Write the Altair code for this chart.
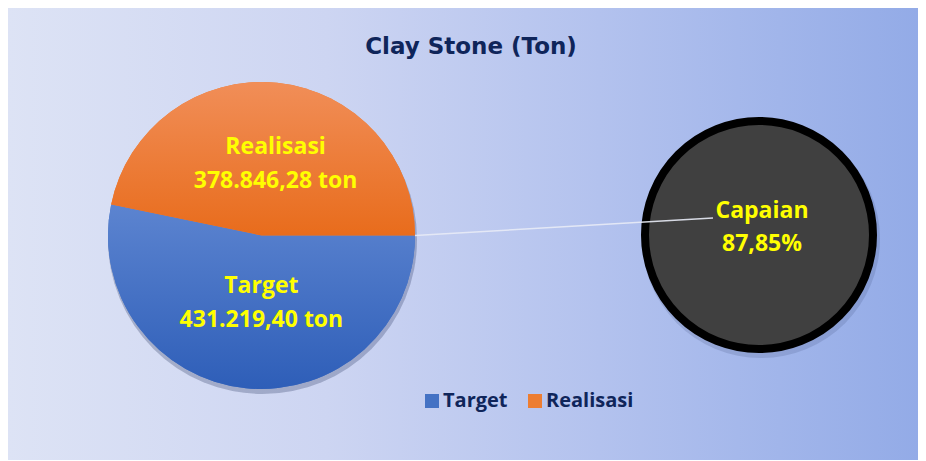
import math
import altair as alt
import pandas as pd

# ---- data ----
categories = ["Target", "Realisasi"]
values = [431219.40, 378846.28]
capaian_label = "Capaian"
capaian_value = 87.85
title_text = "Clay Stone (Ton)"


def fmt_id(v, dec=2):
    s = f"{v:,.{dec}f}"
    return s.replace(",", "_").replace(".", ",").replace("_", ".")


# ---- layout / style ----
W, H = 910, 452
PIE_X, PIE_Y, PIE_R = 253.5, 227.5, 153.5
CIR_X, CIR_Y, CIR_R = 751, 227, 114
NAVY = "#0f255a"
YELLOW = "#ffff00"
solid_colors = ["#4472c4", "#ed7d31"]
grad_colors = [("#5c84d0", "#2e5eb8"), ("#f18e58", "#e86c1c")]

pie_df = pd.DataFrame({
    "cat": categories,
    "value": values,
    "order": list(range(len(categories))),
    "label": [f"{c}\n{fmt_id(v)} ton" for c, v in zip(categories, values)],
})
cap_df = pd.DataFrame({
    "v": [capaian_value],
    "label": [f"{capaian_label}\n{fmt_id(capaian_value)}%"],
})

theta = alt.Theta("value:Q", stack=True,
                  scale=alt.Scale(range=[math.pi / 2, math.pi / 2 + 2 * math.pi]))
order = alt.Order("order:Q")

bg = alt.Chart(pd.DataFrame({"k": [0]})).mark_rect(
    fill=alt.Gradient(
        gradient="linear", x1=0, x2=1, y1=0, y2=0,
        stops=[
            alt.GradientStop(offset=0, color="#dde3f5"),
            alt.GradientStop(offset=0.35, color="#cdd5f2"),
            alt.GradientStop(offset=0.65, color="#b3c2ee"),
            alt.GradientStop(offset=1, color="#93abe7"),
        ],
    )
).encode(x=alt.value(0), x2=alt.value(W), y=alt.value(0), y2=alt.value(H))

# soft drop shadows
pie_shadow = alt.Chart(pie_df).mark_arc(
    theta=0, theta2=2 * math.pi, outerRadius=PIE_R + 1, fill="#1a2a55", opacity=0.14,
).encode(x=alt.value(PIE_X + 1), y=alt.value(PIE_Y + 4))
cir_shadow = alt.Chart(cap_df).mark_arc(
    theta=0, theta2=2 * math.pi, outerRadius=CIR_R + 5, fill="#1a2a55", opacity=0.14,
).encode(x=alt.value(CIR_X + 2), y=alt.value(CIR_Y + 4))

base_pie = alt.Chart(pie_df).mark_arc(outerRadius=PIE_R).encode(
    theta=theta,
    order=order,
    color=alt.Color(
        "cat:N",
        scale=alt.Scale(domain=categories, range=solid_colors),
        legend=alt.Legend(
            orient="none", legendX=414, legendY=383, direction="horizontal",
            title=None, symbolType="square", symbolSize=196,
            labelFont="Open Sans", labelFontSize=20, labelFontWeight="bold",
            labelColor=NAVY, labelOffset=1, columnPadding=17, padding=0,
            symbolStrokeWidth=0,
        ),
    ),
    x=alt.value(PIE_X),
    y=alt.value(PIE_Y),
)

overlays = []
for cat, (c_top, c_bot) in zip(categories, grad_colors):
    overlays.append(
        alt.Chart(pie_df).mark_arc(
            outerRadius=PIE_R,
            fill=alt.Gradient(
                gradient="linear", x1=0, x2=0, y1=0, y2=1,
                stops=[alt.GradientStop(offset=0, color=c_top),
                       alt.GradientStop(offset=1, color=c_bot)],
            ),
        ).encode(
            theta=theta,
            order=order,
            x=alt.value(PIE_X),
            y=alt.value(PIE_Y),
            opacity=alt.condition(alt.datum.cat == cat, alt.value(1), alt.value(0)),
        )
    )

pie_text = alt.Chart(pie_df).mark_text(
    radius=70, font="Open Sans", fontSize=23, fontWeight="bold", color=YELLOW,
    lineBreak="\n", lineHeight=34, align="center", baseline="middle", dx=7, dy=-19,
).encode(theta=theta, order=order, text="label:N",
         x=alt.value(PIE_X), y=alt.value(PIE_Y))

circle = alt.Chart(cap_df).mark_arc(
    theta=0, theta2=2 * math.pi, outerRadius=CIR_R,
    fill="#404040", stroke="#000000", strokeWidth=8,
).encode(x=alt.value(CIR_X), y=alt.value(CIR_Y))

leader = alt.Chart(cap_df).mark_rule(color="#e8ebf6", strokeWidth=1.5, opacity=0.9).encode(
    x=alt.value(PIE_X + PIE_R), y=alt.value(PIE_Y),
    x2=alt.value(705), y2=alt.value(210),
)

cap_text = alt.Chart(cap_df).mark_text(
    font="Open Sans", fontSize=23, fontWeight="bold", color=YELLOW,
    lineBreak="\n", lineHeight=33, align="center", baseline="middle", dx=3, dy=-24,
).encode(text="label:N", x=alt.value(CIR_X), y=alt.value(CIR_Y))

title = alt.Chart(pd.DataFrame({"t": [title_text]})).mark_text(
    font="DejaVu Sans", fontSize=23, fontWeight="bold", color=NAVY,
    align="center", baseline="alphabetic",
).encode(text="t:N", x=alt.value(463), y=alt.value(46))

chart = alt.layer(
    bg, pie_shadow, cir_shadow, base_pie, *overlays, pie_text, circle, leader,
    cap_text, title
).properties(
    width=W, height=H, padding=0,
    autosize=alt.AutoSizeParams(type="none"),
).configure_view(stroke=None).configure(background="white")

chart.save("out.html", embed_options={"renderer": "svg", "actions": False})
